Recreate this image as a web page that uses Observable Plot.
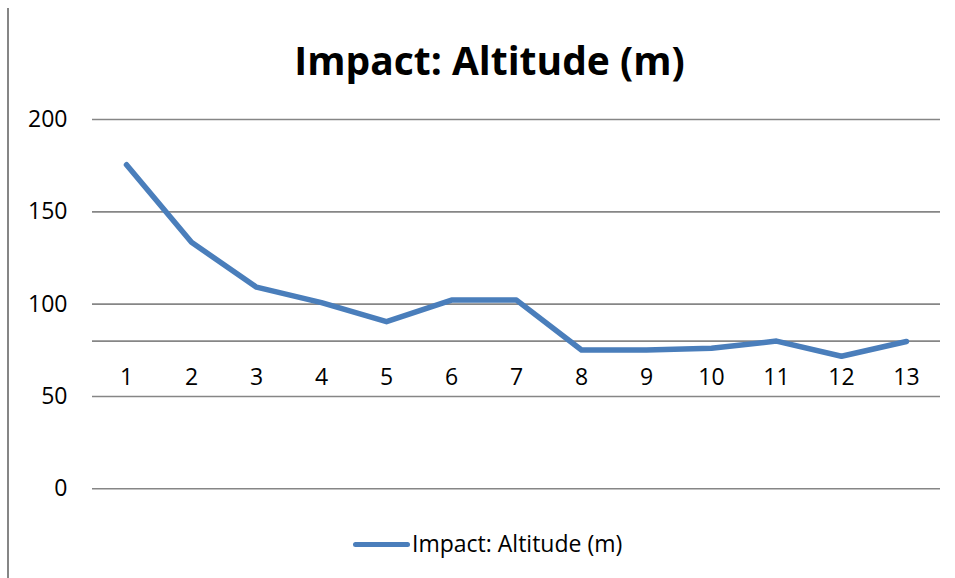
<!DOCTYPE html>
<html>
<head>
<meta charset="utf-8">
<script src="https://cdn.jsdelivr.net/npm/d3@7"></script>
<script src="https://cdn.jsdelivr.net/npm/@observablehq/plot@0.6"></script>
<style>
  html, body { margin: 0; padding: 0; background: #fff; }
  #wrap { position: relative; width: 955px; height: 578px; overflow: hidden; font-family: "Open Sans", sans-serif; }
  #border { position: absolute; left: 7px; top: 8px; width: 2px; height: 570px; background: #868686; }
  #title { height: 95px; box-sizing: border-box; padding-top: 32px; padding-left: 24px; text-align: center; font-weight: bold; font-size: 39px; line-height: 56px; color: #000; }
  #legend { height: 58px; position: relative; }
  #legend .swatch { position: absolute; left: 353px; top: 22px; width: 57px; height: 5px; border-radius: 3px; background: #4A7EBB; }
  #legend .label { position: absolute; left: 412px; top: 8px; font-size: 23px; line-height: 30px; color: #000; }
  svg { display: block; }
</style>
</head>
<body>
<div id="wrap">
  <div id="border"></div>
  <div id="title">Impact: Altitude (m)</div>
  <div id="chart"></div>
  <div id="legend"><div class="swatch"></div><div class="label">Impact: Altitude (m)</div></div>
</div>
<script>
const categories = ["1","2","3","4","5","6","7","8","9","10","11","12","13"];
const altitude = [175.5, 133.5, 109.2, 100.8, 90.5, 102.2, 102.2, 75.2, 75.2, 76.1, 80, 71.8, 79.8];
const yTicks = [0, 50, 100, 150, 200];
const axisCrossing = 80;

const data = categories.map((c, i) => ({cat: c, val: altitude[i]}));

const chart = Plot.plot({
  width: 955,
  height: 425,
  marginTop: 24,
  marginBottom: 31.7,
  marginLeft: 92,
  marginRight: 15,
  style: {fontFamily: "Open Sans, sans-serif", color: "#000", background: "#fff"},
  x: {type: "point", domain: categories, padding: 0.5, axis: null},
  y: {domain: [0, 200], axis: null},
  marks: [
    Plot.ruleY(yTicks, {stroke: "#868686", strokeWidth: 1.6}),
    Plot.ruleY([axisCrossing], {stroke: "#868686", strokeWidth: 1.6}),
    Plot.axisY({ticks: yTicks, tickSize: 0, tickPadding: 25, fontSize: 23, label: null, tickFormat: d => String(d)}),
    Plot.text(categories, {x: d => d, y: () => axisCrossing, dy: 37, fontSize: 23, fill: "#000"}),
    Plot.line(data, {x: "cat", y: "val", stroke: "#4A7EBB", strokeWidth: 5.5, strokeLinejoin: "round", strokeLinecap: "round"})
  ]
});
document.getElementById("chart").appendChild(chart);
</script>
</body>
</html>
